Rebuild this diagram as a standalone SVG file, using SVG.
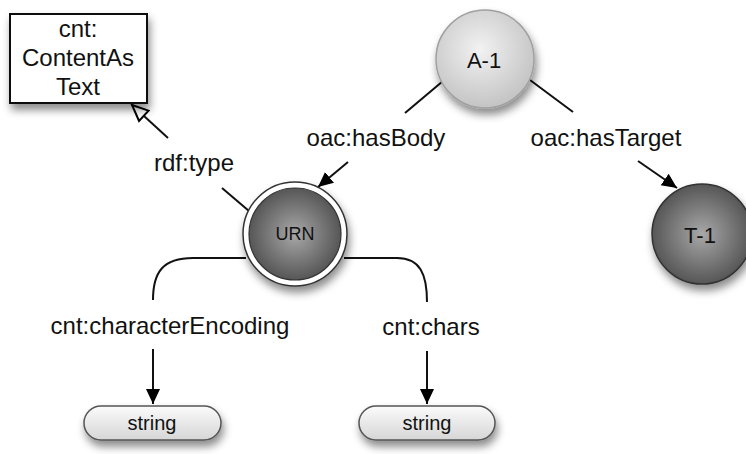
<svg xmlns="http://www.w3.org/2000/svg" width="746" height="454" viewBox="0 0 746 454">
<style>
text{font-family:"Liberation Sans",Arial,Helvetica,sans-serif;fill:#111;text-anchor:middle}
.lbl{font-size:24px}
.conn{fill:none;stroke:#111;stroke-width:2}
</style>
<defs>
<filter id="sh" x="-30%" y="-30%" width="160%" height="170%">
<feDropShadow dx="2" dy="6" stdDeviation="4" flood-color="#000" flood-opacity="0.45"/>
</filter>
<radialGradient id="gA" cx="45%" cy="40%" r="60%">
<stop offset="0" stop-color="#f2f2f2"/><stop offset="1" stop-color="#c4c4c4"/>
</radialGradient>
<radialGradient id="gD" cx="50%" cy="50%" r="55%">
<stop offset="0" stop-color="#a8a8a8"/><stop offset="1" stop-color="#4e4e4e"/>
</radialGradient>
<linearGradient id="gP" x1="0" y1="0" x2="0" y2="1">
<stop offset="0" stop-color="#fbfbfb"/><stop offset="1" stop-color="#d6d6d6"/>
</linearGradient>
<marker id="ar" markerUnits="userSpaceOnUse" markerWidth="16" markerHeight="16" viewBox="0 0 16 16" refX="15" refY="8" orient="auto">
<path d="M0,1 L15,8 L0,15 Z" fill="#000"/>
</marker>
<marker id="ao" markerUnits="userSpaceOnUse" markerWidth="20" markerHeight="20" viewBox="0 0 20 20" refX="18" refY="10" orient="auto">
<path d="M2,3 L18,10 L2,17 Z" fill="#fff" stroke="#000" stroke-width="2"/>
</marker>
</defs>
<rect width="746" height="454" fill="#fff"/>
<g id="connectors">
<line class="conn" x1="443" y1="81" x2="405" y2="113"/>
<line class="conn" x1="348" y1="162" x2="318" y2="187" marker-end="url(#ar)"/>
<line class="conn" x1="530" y1="80" x2="573" y2="112"/>
<line class="conn" x1="638" y1="161" x2="677" y2="188" marker-end="url(#ar)"/>
<line class="conn" x1="249" y1="211" x2="222" y2="188"/>
<line class="conn" x1="168" y1="138" x2="132" y2="105" marker-end="url(#ao)"/>
<path class="conn" d="M246 258 L193 258 C163 258 153 272 153 300"/>
<path class="conn" d="M344 258 L397 258 C420 258 427 274 427 302"/>
<line class="conn" x1="153" y1="349" x2="153" y2="404" marker-end="url(#ar)"/>
<line class="conn" x1="427" y1="351" x2="427" y2="404" marker-end="url(#ar)"/>
</g>
<g id="labels">
<text class="lbl" x="376" y="146">oac:hasBody</text>
<text class="lbl" x="606" y="146">oac:hasTarget</text>
<text class="lbl" x="194" y="171">rdf:type</text>
<text class="lbl" x="170" y="334">cnt:characterEncoding</text>
<text class="lbl" x="431" y="335">cnt:chars</text>
</g>
<g id="cnt-ContentAsText">
<rect x="10" y="14" width="137" height="89" fill="#fff" stroke="#111" stroke-width="2" filter="url(#sh)"/>
<text class="lbl" x="78" y="37">cnt:</text>
<text class="lbl" x="78" y="66">ContentAs</text>
<text class="lbl" x="78" y="95">Text</text>
</g>
<g id="A-1">
<circle cx="485" cy="59" r="49" fill="url(#gA)" stroke="#a0a0a0" stroke-width="1.5" filter="url(#sh)"/>
<text x="484" y="68" font-size="22">A-1</text>
</g>
<g id="URN">
<circle cx="295" cy="234" r="52" fill="#fff" stroke="#333" stroke-width="1.5" filter="url(#sh)"/>
<circle cx="295" cy="234" r="46" fill="url(#gD)" stroke="#333" stroke-width="1.2"/>
<text x="295" y="240" font-size="18">URN</text>
</g>
<g id="T-1">
<circle cx="702" cy="234" r="50" fill="url(#gD)" stroke="#333" stroke-width="1.5" filter="url(#sh)"/>
<text x="700" y="243" font-size="22">T-1</text>
</g>
<g id="string1">
<rect x="84" y="406" width="137" height="34" rx="17" fill="url(#gP)" stroke="#555" stroke-width="1.5" filter="url(#sh)"/>
<text x="152" y="430" font-size="20">string</text>
</g>
<g id="string2">
<rect x="359" y="406" width="136" height="34" rx="17" fill="url(#gP)" stroke="#555" stroke-width="1.5" filter="url(#sh)"/>
<text x="427" y="430" font-size="20">string</text>
</g>
</svg>
